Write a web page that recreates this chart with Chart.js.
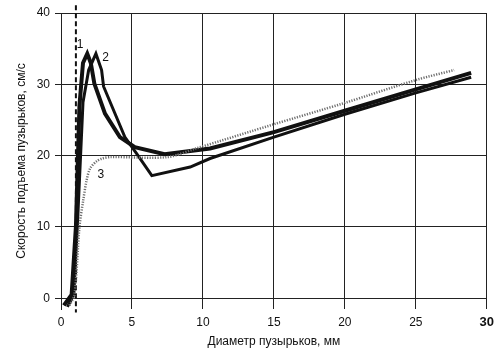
<!DOCTYPE html>
<html>
<head>
<meta charset="utf-8">
<script src="https://cdn.jsdelivr.net/npm/chart.js@4"></script>
<style>
html,body{margin:0;padding:0;background:#fff;}
#wrap{width:500px;height:357px;position:relative;}
</style>
</head>
<body>
<div id="wrap"><canvas id="c" width="500" height="357"></canvas></div>
<script>
// ---- data ----
const xTicks = [0, 5, 10, 15, 20, 25, 30];
const yTicks = [0, 10, 20, 30, 40];

const curveAX = [0.2, 0.75, 1.05, 1.3, 1.55, 1.85, 2.1, 2.35, 3.1, 4.15, 5.2, 7.3, 10.5, 15, 20, 25, 28.9];
const curveAY = [-1.0, 0.5, 10, 27, 33, 34.3, 33.0, 30.1, 25.9, 22.6, 21.2, 20.2, 21.0, 23.3, 26.3, 29.3, 31.6];

const curveBX = [0.45, 0.9, 1.15, 1.55, 1.95, 2.46, 2.86, 3.0, 4.5, 5.33, 6.4, 9.1, 10.5, 15, 20, 25, 28.9];
const curveBY = [-1.2, 0.5, 10, 27.5, 32.0, 34.3, 32.0, 29.7, 22.6, 20.3, 17.2, 18.4, 19.6, 22.6, 25.8, 28.8, 31.0];

const curve3X = [0.6, 0.95, 1.3, 1.57, 1.8, 2.05, 2.5, 2.9, 3.5, 7.5, 9.5, 15, 20, 25, 27.7];
const curve3Y = [-1.0, 0.5, 10, 13.8, 16.5, 18.2, 19.2, 19.6, 19.8, 19.8, 21.0, 24.4, 27.4, 30.6, 32.0];

const line1X = [1.05, 1.05];
const line1Y = [41.1, -2.0];

const curveLabels = ["1", "2", "3"];
const labelX = [1.35, 3.15, 2.8];
const labelY = [35.6, 33.8, 17.4];

const xTitle = "Диаметр пузырьков, мм";
const yTitle = "Скорость подъема пузырьков, см/с";

const pts = (xs, ys) => xs.map((x, i) => ({x: x, y: ys[i]}));

const FONT = "'Liberation Sans', Arial, sans-serif";

const labelPlugin = {
  id: 'curveLabels',
  afterDatasetsDraw(chart) {
    const ctx = chart.ctx;
    const xs = chart.scales.x, ys = chart.scales.y;
    ctx.save();
    ctx.font = "12px " + FONT;
    ctx.fillStyle = "#111";
    ctx.textAlign = "center";
    ctx.textBaseline = "middle";
    curveLabels.forEach((t, i) => {
      ctx.fillText(t, xs.getPixelForValue(labelX[i]), ys.getPixelForValue(labelY[i]));
    });
    ctx.restore();
  }
};

new Chart(document.getElementById('c'), {
  type: 'line',
  data: {
    datasets: [
      {data: pts(curve3X, curve3Y), borderColor: '#6e6e6e', borderWidth: 2.5, borderDash: [1.2, 1.4], pointRadius: 0, tension: 0.3, fill: false},
      {data: pts(curveBX, curveBY), borderColor: '#111', borderWidth: 3, pointRadius: 0, tension: 0, fill: false},
      {data: pts(curveAX, curveAY), borderColor: '#111', borderWidth: 4, pointRadius: 0, tension: 0, fill: false},
      {data: pts(line1X, line1Y), borderColor: '#111', borderWidth: 2, borderDash: [5, 3], pointRadius: 0, fill: false, clip: false}
    ]
  },
  options: {
    responsive: false,
    animation: false,
    devicePixelRatio: 1,
    layout: {padding: {top: 13, right: 12, left: 0, bottom: 0}},
    plugins: {legend: {display: false}, tooltip: {enabled: false}},
    scales: {
      x: {
        type: 'linear',
        min: 0, max: 30,
        afterBuildTicks: s => { s.ticks = xTicks.map(v => ({value: v})); },
        afterFit: s => { s.height = 48; },
        border: {display: false},
        grid: {color: '#222', lineWidth: 1, drawTicks: false},
        ticks: {
          padding: 6,
          color: '#111',
          font: c => (c.tick && c.tick.value === 30) ? {family: FONT, size: 13, weight: 'bold'} : {family: FONT, size: 12},
          callback: v => String(v)
        },
        title: {display: true, text: xTitle, color: '#111', font: {family: FONT, size: 12}, padding: {top: 0, bottom: 8}}
      },
      y: {
        type: 'linear',
        min: -1.5, max: 40,
        afterBuildTicks: s => { s.ticks = yTicks.map(v => ({value: v})); },
        afterFit: s => { s.width = 61; },
        border: {display: true, color: '#222', width: 1},
        grid: {color: '#222', lineWidth: 1, tickLength: 6},
        ticks: {padding: 5, color: '#111', font: {family: FONT, size: 12}, callback: v => String(v)},
        title: {display: true, text: yTitle, color: '#111', font: {family: FONT, size: 12}, padding: {top: 14, bottom: 0}}
      }
    }
  },
  plugins: [labelPlugin]
});
</script>
</body>
</html>
